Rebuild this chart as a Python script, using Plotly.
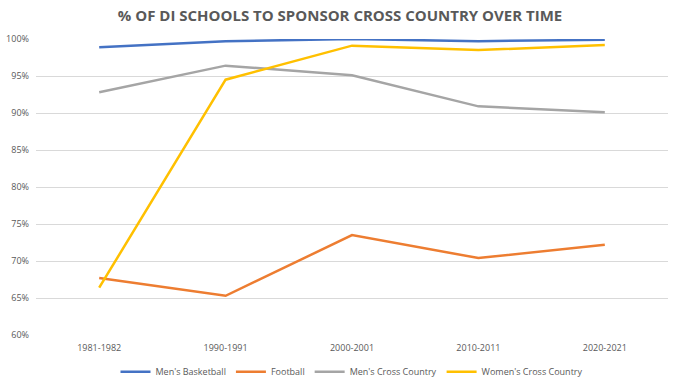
import plotly.graph_objects as go

seasons = ["1981-1982", "1990-1991", "2000-2001", "2010-2011", "2020-2021"]
mens_basketball = [0.989, 0.997, 1.000, 0.997, 0.999]
football = [0.677, 0.653, 0.735, 0.704, 0.722]
mens_xc = [0.928, 0.964, 0.951, 0.909, 0.901]
womens_xc = [0.664, 0.945, 0.991, 0.985, 0.992]

series = [
    ("Men's Basketball", mens_basketball, "#4472C4"),
    ("Football", football, "#ED7D31"),
    ("Men's Cross Country", mens_xc, "#A5A5A5"),
    ("Women's Cross Country", womens_xc, "#FFC000"),
]

fig = go.Figure()
for name, vals, color in series:
    fig.add_trace(go.Scatter(x=seasons, y=vals, name=name, mode="lines",
                             line=dict(color=color, width=2.5)))

font = "Open Sans, Liberation Sans, sans-serif"
fig.update_layout(
    width=680, height=382,
    margin=dict(l=36, r=12, t=39, b=47, autoexpand=False),
    paper_bgcolor="white", plot_bgcolor="white",
    title=dict(text="<b>% OF DI SCHOOLS TO SPONSOR CROSS COUNTRY OVER TIME</b>",
               x=0.5, xanchor="center", y=0.96, yanchor="middle",
               font=dict(family=font, size=15, color="#595959")),
    font=dict(family=font, size=9, color="#595959"),
    showlegend=True,
    legend=dict(orientation="h", x=0.5, xanchor="center", y=-0.075, yanchor="top",
                font=dict(size=9, color="#595959"), itemwidth=30,
                bgcolor="rgba(0,0,0,0)"),
    xaxis=dict(type="category", showgrid=False, showline=False, ticks="",
               range=[-0.5, 4.5], ticklabelstandoff=6,
               tickfont=dict(size=9, color="#595959")),
    yaxis=dict(range=[0.6, 1.0], dtick=0.05, tickformat=".0%",
               showgrid=True, gridcolor="#D9D9D9", gridwidth=1,
               zeroline=False, showline=False, ticks="", ticklabelstandoff=6,
               tickfont=dict(size=9, color="#595959")),
)

fig.write_html("out.html", config={"displayModeBar": False},
               post_script="document.body.style.margin='0px';document.body.style.overflow='hidden';")
